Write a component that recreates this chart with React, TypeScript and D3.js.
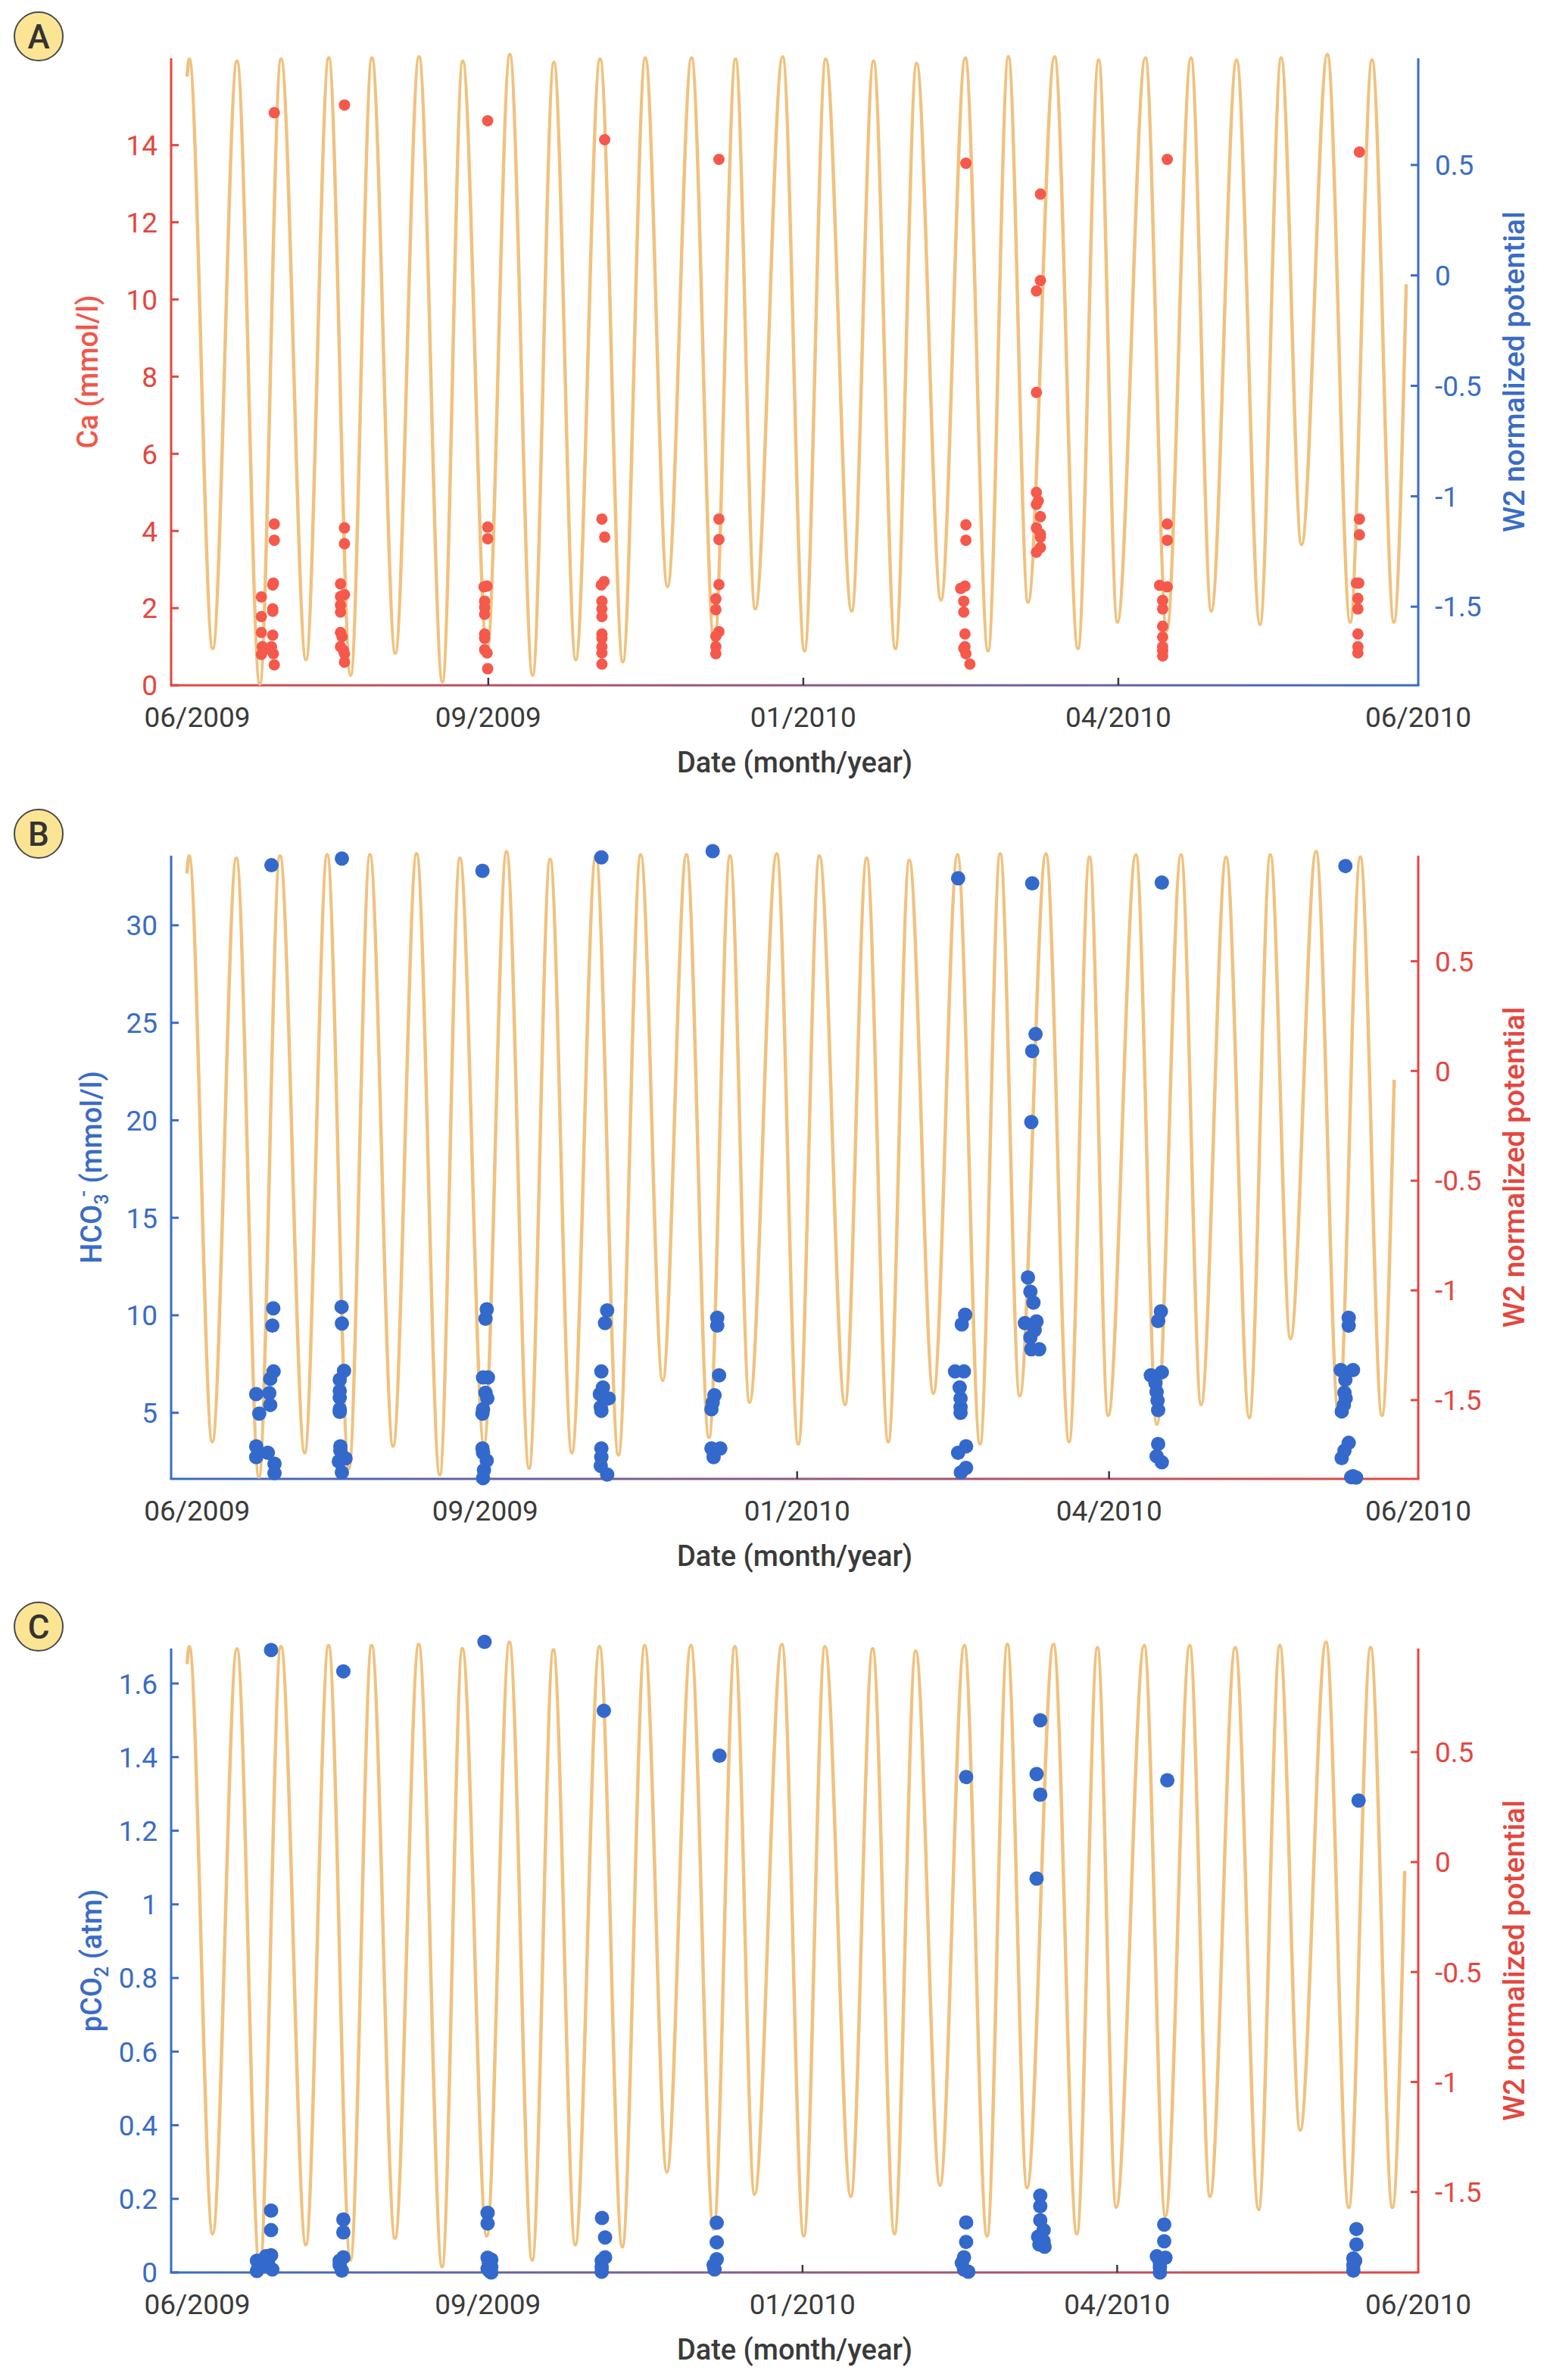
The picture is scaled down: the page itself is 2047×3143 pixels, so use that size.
import React from "react";
import * as d3 from "d3";

const WIDTH = 2047;
const HEIGHT = 3143;

// ---- W2 normalized potential: turning points (day, value) ----
const w2Days = [
  5.17, 5.9, 13.5, 21.4, 28.8, 35.7, 43.8, 51.2, 58.3, 65.2, 72.8, 80.5, 88.1, 94.7,
  102.6, 110.0, 117.4, 124.3, 131.4, 139.3, 146.7, 154.0, 161.2, 169.0, 176.4, 183.3,
  189.7, 198.6, 205.7, 212.6, 221.0, 228.1, 235.2, 242.1, 250.0, 257.9, 265.3, 271.9,
  278.3, 286.9, 294.5, 301.2, 307.3, 316.4, 323.3, 331.2, 337.8, 346.0, 353.6, 360.5,
  367.1, 375.5, 382.9, 390.0, 397.1, 401.1,
];
const w2Values = [
  0.9, 0.98, -1.69, 0.97, -1.85, 0.98, -1.74, 0.985, -1.81, 0.985, -1.71, 0.99, -1.84, 0.97,
  -1.7, 1.0, -1.81, 0.965, -1.74, 0.98, -1.75, 0.985, -1.41, 0.985, -1.67, 0.98,
  -1.51, 0.99, -1.7, 0.98, -1.52, 0.97, -1.69, 0.96, -1.47, 0.985, -1.7, 0.99,
  -1.48, 0.99, -1.69, 0.975, -1.57, 0.985, -1.61, 0.985, -1.52, 0.975, -1.58, 0.985,
  -1.22, 1.0, -1.57, 0.975, -1.57, -0.04,
];

// ---- x axis ticks ----
const xTickDays = [8.5, 103, 205.3, 307.6];
const xTickLabels = ["06/2009", "09/2009", "01/2010", "04/2010", "06/2010"];

// ---- W2 axis ticks ----
const w2Ticks = [-1.5, -1, -0.5, 0, 0.5];

// ---- Panel A: Ca (mmol/l) ----
const caDays = [
  33.5, 33.5, 33.5, 33.2, 33.0, 33.0, 33.0, 33.0, 32.6, 33.2, 33.5, 29.3, 29.3, 29.3, 29.6, 29.3, 31.0,
  56.3, 56.3, 56.3, 55.0, 56.3, 55.0, 55.0, 55.0, 55.0, 55.5, 55.0, 56.0, 56.3, 56.3,
  102.8, 102.8, 102.8, 102.6, 101.6, 101.8, 101.8, 101.8, 101.8, 101.8, 101.8, 102.6, 102.8,
  140.8, 139.9, 140.8, 140.6, 139.7, 139.9, 139.9, 139.9, 139.9, 139.9, 139.9, 139.9, 139.9,
  177.9, 177.9, 177.9, 177.9, 176.9, 176.9, 177.9, 176.9, 176.9, 176.9,
  258.1, 258.1, 258.1, 257.8, 256.4, 257.4, 257.4, 257.8, 257.8, 257.4, 258.1, 259.4,
  282.3, 282.3, 281.0, 281.0, 281.0, 281.0, 281.6, 282.3, 281.0, 282.3, 282.3, 282.3, 281.0,
  323.5, 323.5, 323.5, 321.0, 323.5, 322.0, 322.0, 322.0, 322.0, 322.0, 322.0, 322.0,
  385.9, 385.9, 385.9, 385.7, 384.9, 385.4, 385.4, 385.4, 385.4, 385.4,
];
const caValues = [
  14.84, 4.18, 3.76, 2.65, 2.6, 1.98, 1.92, 1.3, 1.0, 0.82, 0.53, 2.29, 1.78, 1.37, 1.0, 0.8, 0.95,
  15.04, 4.08, 3.67, 2.63, 2.35, 2.3, 2.08, 1.9, 1.37, 1.26, 1.0, 0.9, 0.82, 0.6,
  14.63, 4.1, 3.8, 2.57, 2.55, 2.18, 2.02, 1.84, 1.33, 1.22, 0.92, 0.84, 0.43,
  14.14, 4.31, 3.84, 2.69, 2.6, 2.18, 1.98, 1.78, 1.33, 1.22, 1.0, 0.84, 0.55,
  13.63, 4.31, 3.78, 2.61, 2.24, 1.96, 1.39, 1.27, 1.0, 0.82,
  13.53, 4.16, 3.76, 2.57, 2.51, 2.18, 1.9, 1.33, 1.0, 0.96, 0.82, 0.55,
  12.73, 10.49, 10.22, 7.59, 5.0, 4.69, 4.78, 4.37, 4.08, 3.92, 3.84, 3.57, 3.45,
  13.63, 4.18, 3.76, 2.59, 2.55, 2.2, 1.98, 1.53, 1.25, 1.0, 0.9, 0.76,
  13.82, 4.31, 3.9, 2.65, 2.65, 2.25, 1.98, 1.33, 1.0, 0.84,
];
const caTicks = [0, 2, 4, 6, 8, 10, 12, 14];

// ---- Panel B: HCO3- (mmol/l) ----
const hco3Days = [
  32.9, 33.5, 33.2, 33.6, 32.5, 27.9, 32.2, 28.9, 32.5, 27.9, 27.9, 31.7, 33.9, 33.9,
  56.0, 55.9, 56.0, 56.7, 55.3, 55.3, 55.3, 55.3, 55.3, 55.5, 55.5, 55.0, 57.2, 56.0,
  102.1, 103.5, 103.1, 102.3, 103.9, 103.1, 103.7, 102.3, 102.1, 102.1, 102.3, 103.5, 102.6, 102.3,
  141.1, 143.0, 142.3, 141.1, 141.6, 140.6, 143.5, 140.9, 141.1, 141.1, 141.1, 140.9, 143.0,
  177.6, 179.1, 179.1, 179.7, 178.2, 177.6, 177.2, 177.2, 180.1, 177.9,
  258.1, 260.4, 259.3, 257.1, 260.0, 258.6, 258.9, 258.9, 258.9, 260.7, 258.1, 260.7, 259.0,
  282.4, 283.5, 282.4, 282.1, 281.0, 281.8, 282.8, 280.0, 283.8, 283.2, 281.8, 282.1, 284.7,
  324.9, 324.6, 323.7, 321.3, 324.9, 322.8, 323.2, 323.5, 323.7, 323.7, 323.2, 324.9,
  385.1, 386.2, 386.2, 383.6, 387.6, 385.1, 384.8, 385.2, 384.6, 383.9, 386.2, 384.8, 383.9, 387.6, 388.6, 387.0,
];
const hco3Values = [
  33.08, 10.36, 9.47, 7.12, 6.74, 5.96, 6.01, 4.96, 5.4, 3.28, 2.73, 2.95, 2.39, 1.9,
  33.42, 10.43, 9.58, 7.15, 6.7, 6.12, 5.78, 5.18, 5.05, 3.28, 3.06, 2.5, 2.66, 1.94,
  32.79, 10.31, 9.82, 6.81, 6.81, 6.03, 5.74, 5.18, 4.96, 3.17, 2.95, 2.55, 2.06, 1.65,
  33.48, 10.25, 9.6, 7.12, 6.3, 5.96, 5.74, 5.29, 5.1, 3.17, 2.73, 2.28, 1.83,
  33.8, 9.87, 9.47, 6.92, 5.9, 5.52, 5.18, 3.17, 3.17, 2.73,
  32.41, 10.03, 9.53, 7.12, 7.12, 6.3, 5.74, 5.29, 5.0, 3.28, 2.95, 2.17, 1.94,
  32.15, 24.42, 23.55, 19.91, 11.94, 11.21, 10.65, 9.6, 9.69, 9.24, 8.86, 8.26, 8.26,
  32.19, 10.2, 9.71, 6.92, 7.08, 6.52, 6.07, 5.63, 5.14, 3.4, 2.77, 2.46,
  33.04, 9.87, 9.47, 7.19, 7.19, 6.7, 6.03, 5.74, 5.4, 5.07, 3.46, 3.06, 2.68, 1.75, 1.68, 1.7,
];
const hco3Ticks = [5, 10, 15, 20, 25, 30];

// ---- Panel C: pCO2 (atm) ----
const pco2Days = [
  32.5, 32.5, 32.5, 32.5, 30.8, 27.9, 28.7, 32.9, 27.9, 30.4, 31.5,
  56.0, 56.0, 56.0, 56.0, 54.8, 54.8, 55.5,
  101.9, 102.9, 102.9, 102.9, 104.1, 103.3, 104.1, 102.9, 103.5, 104.1,
  140.7, 140.1, 141.1, 141.1, 140.0, 140.0, 140.0,
  178.3, 177.4, 177.4, 177.4, 176.4, 176.7,
  258.5, 258.5, 258.5, 257.8, 257.1, 257.8, 259.2,
  282.6, 281.4, 282.6, 281.4, 282.6, 282.6, 282.6, 283.7, 281.9, 283.7, 284.0, 282.3,
  323.9, 322.9, 322.9, 320.5, 323.3, 321.5, 321.5, 321.5,
  386.1, 385.4, 385.4, 384.4, 385.0, 384.4, 384.4,
];
const pco2Values = [
  1.691, 0.168, 0.115, 0.047, 0.044, 0.032, 0.014, 0.008, 0.004, 0.02, 0.03,
  1.633, 0.144, 0.109, 0.041, 0.032, 0.02, 0.005,
  1.713, 0.162, 0.133, 0.04, 0.035, 0.025, 0.015, 0.01, 0.004, 0.0,
  1.526, 0.148, 0.095, 0.041, 0.032, 0.014, 0.002,
  1.404, 0.135, 0.082, 0.036, 0.02, 0.008,
  1.346, 0.136, 0.083, 0.041, 0.026, 0.008, 0.002,
  1.5, 1.354, 1.298, 1.07, 0.209, 0.18, 0.142, 0.115, 0.097, 0.085, 0.07, 0.076,
  1.337, 0.13, 0.085, 0.044, 0.04, 0.026, 0.014, 0.0,
  1.282, 0.118, 0.076, 0.038, 0.032, 0.02, 0.005,
];
const pco2Ticks = [0, 0.2, 0.4, 0.6, 0.8, 1, 1.2, 1.4, 1.6];

// ---- styling ----
const RED = "#e4473f";
const BLUE = "#3a6cc6";
const DOT_RED = "#f5594b";
const DOT_BLUE = "#3469cc";
const LINE = "#f0c27f";
const DARK = "#3a3a3a";
const FONT = "Roboto, 'Noto Sans', sans-serif";

const AX_LEFT = 226;
const AX_RIGHT = 1873;

type PanelProps = {
  id: string;
  letter: string;
  top: number;
  bottom: number;
  xMax: number;
  leftDomain: [number, number];
  w2Domain: [number, number];
  leftTicks: number[];
  leftColor: string;
  rightColor: string;
  leftTitle: React.ReactNode;
  leftTitleX: number;
  days: number[];
  values: number[];
  dotColor: string;
  dotR: number;
};

function Panel(p: PanelProps) {
  const x = d3.scaleLinear().domain([0, p.xMax]).range([AX_LEFT, AX_RIGHT]);
  const yL = d3.scaleLinear().domain(p.leftDomain).range([p.bottom, p.top]);
  const yR = d3.scaleLinear().domain(p.w2Domain).range([p.bottom, p.top]);
  const linePts: [number, number][] = w2Days.map((d, i) => [d, w2Values[i]]);
  const lineGen = d3
    .line<[number, number]>()
    .x((d) => x(d[0]))
    .y((d) => yR(d[1]))
    .curve(d3.curveMonotoneX);
  const gradId = "grad" + p.id;
  const midY = (p.top + p.bottom) / 2;
  const tickLabelPos = [...xTickDays, p.xMax];
  return (
    <g>
      <defs>
        <linearGradient id={gradId} gradientUnits="userSpaceOnUse" x1={AX_LEFT} x2={AX_RIGHT} y1={0} y2={0}>
          <stop offset="0%" stopColor={p.leftColor} />
          <stop offset="100%" stopColor={p.rightColor} />
        </linearGradient>
      </defs>
      {/* panel letter */}
      <circle cx={51} cy={p.top - 29} r={32} fill="#fbe594" stroke="#4a4a4a" strokeWidth={2} />
      <text x={51} y={p.top - 29} dy="0.36em" textAnchor="middle" fontFamily={FONT} fontWeight={500} fontSize={44} fill="#333">
        {p.letter}
      </text>

      {/* axes */}
      <line x1={AX_LEFT} x2={AX_LEFT} y1={p.top} y2={p.bottom} stroke={p.leftColor} strokeWidth={3} />
      <line x1={AX_RIGHT} x2={AX_RIGHT} y1={p.top} y2={p.bottom} stroke={p.rightColor} strokeWidth={3} />
      <rect x={AX_LEFT - 1.5} y={p.bottom - 1.5} width={AX_RIGHT - AX_LEFT + 3} height={3} fill={`url(#${gradId})`} />

      {p.leftTicks.map((t) => (
        <g key={"l" + t}>
          <line x1={AX_LEFT} x2={AX_LEFT + 10} y1={yL(t)} y2={yL(t)} stroke={p.leftColor} strokeWidth={3} />
          <text x={208} y={yL(t)} dy="0.36em" textAnchor="end" fontFamily={FONT} fontSize={37} fill={p.leftColor}>
            {String(t)}
          </text>
        </g>
      ))}
      {w2Ticks.map((t) => (
        <g key={"r" + t}>
          <line x1={AX_RIGHT - 10} x2={AX_RIGHT} y1={yR(t)} y2={yR(t)} stroke={p.rightColor} strokeWidth={3} />
          <text x={1895} y={yR(t)} dy="0.36em" textAnchor="start" fontFamily={FONT} fontSize={37} fill={p.rightColor}>
            {String(t)}
          </text>
        </g>
      ))}
      {xTickDays.slice(1).map((t) => (
        <line key={"x" + t} x1={x(t)} x2={x(t)} y1={p.bottom} y2={p.bottom - 10} stroke={DARK} strokeWidth={2.5} />
      ))}
      {tickLabelPos.map((t, i) => (
        <text key={"xl" + i} x={x(t)} y={p.bottom + 55} textAnchor="middle" fontFamily={FONT} fontSize={37} fill={DARK}>
          {xTickLabels[i]}
        </text>
      ))}
      <text x={(AX_LEFT + AX_RIGHT) / 2} y={p.bottom + 115} textAnchor="middle" fontFamily={FONT} fontWeight={500} fontSize={38} fill={DARK}>
        Date (month/year)
      </text>

      {/* axis titles */}
      <text
        transform={`translate(${p.leftTitleX},${midY}) rotate(-90)`}
        textAnchor="middle"
        fontFamily={FONT}
        fontWeight={500}
        fontSize={38}
        fill={p.leftColor === RED ? "#f0574a" : p.leftColor}
      >
        {p.leftTitle}
      </text>
      <text
        transform={`translate(2013,${midY}) rotate(-90)`}
        textAnchor="middle"
        fontFamily={FONT}
        fontWeight={500}
        fontSize={39}
        fill={p.rightColor}
      >
        W2 normalized potential
      </text>

      {/* W2 line */}
      <path d={lineGen(linePts) || ""} fill="none" stroke={LINE} strokeWidth={4.5} strokeLinejoin="round" />

      {/* measurements */}
      {p.days.map((d, i) => (
        <circle key={"p" + i} cx={x(d)} cy={yL(p.values[i])} r={p.dotR} fill={p.dotColor} />
      ))}
    </g>
  );
}

export default function App() {
  return (
    <svg
      width={WIDTH}
      height={HEIGHT}
      viewBox={`0 0 ${WIDTH} ${HEIGHT}`}
      style={{ position: "absolute", left: 0, top: 0, display: "block", background: "#fff" }}
    >
      <rect x={0} y={0} width={WIDTH} height={HEIGHT} fill="#fff" />
      <Panel
        id="A"
        letter="A"
        top={77}
        bottom={905}
        xMax={405}
        leftDomain={[0, 16.25]}
        w2Domain={[-1.856, 0.983]}
        leftTicks={caTicks}
        leftColor={RED}
        rightColor={BLUE}
        leftTitle="Ca (mmol/l)"
        leftTitleX={129}
        days={caDays}
        values={caValues}
        dotColor={DOT_RED}
        dotR={7.5}
      />
      <Panel
        id="B"
        letter="B"
        top={1130}
        bottom={1953}
        xMax={409}
        leftDomain={[1.61, 33.57]}
        w2Domain={[-1.859, 0.981]}
        leftTicks={hco3Ticks}
        leftColor={BLUE}
        rightColor={RED}
        leftTitle={
          <>
            <tspan>HCO</tspan>
            <tspan dy={9} fontSize={25}>3</tspan>
            <tspan dy={-24} dx={-4} fontSize={25}>-</tspan>
            <tspan dy={15}> (mmol/l)</tspan>
          </>
        }
        leftTitleX={134}
        days={hco3Days}
        values={hco3Values}
        dotColor={DOT_BLUE}
        dotR={9.5}
      />
      <Panel
        id="C"
        letter="C"
        top={2177}
        bottom={3001}
        xMax={405.5}
        leftDomain={[0, 1.695]}
        w2Domain={[-1.866, 0.971]}
        leftTicks={pco2Ticks}
        leftColor={BLUE}
        rightColor={RED}
        leftTitle={
          <>
            <tspan>pCO</tspan>
            <tspan dy={9} fontSize={25}>2</tspan>
            <tspan dy={-9}> (atm)</tspan>
          </>
        }
        leftTitleX={134}
        days={pco2Days}
        values={pco2Values}
        dotColor={DOT_BLUE}
        dotR={9.5}
      />
    </svg>
  );
}
